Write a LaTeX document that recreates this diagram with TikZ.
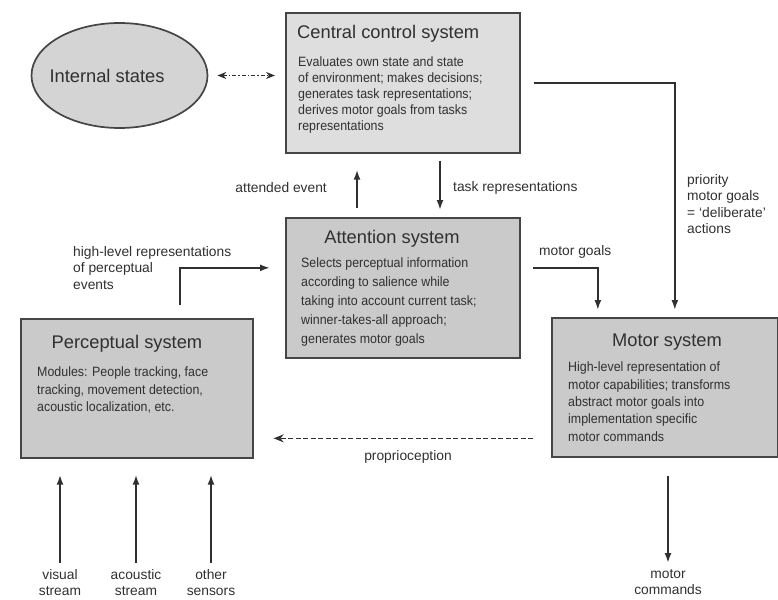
\documentclass[tikz,border=0pt]{standalone}
\usepackage{fontspec}
\setmainfont{Liberation Sans}
\newfontfamily\narrowfont[FakeStretch=0.92]{Liberation Sans}
\usetikzlibrary{arrows.meta,shapes.geometric}
\definecolor{inkgray}{HTML}{303030}
\definecolor{edgegray}{HTML}{454545}
\definecolor{lightfill}{HTML}{DEDEDE}
\definecolor{midfill}{HTML}{CACACA}
\definecolor{ovalfill}{HTML}{D4D4D4}
\begin{document}
\begin{tikzpicture}[x=1pt,y=-1pt,
  sysbox/.style={draw=edgegray,line width=1.7pt,fill=#1,anchor=north west,inner sep=0pt},
  boxtitle/.style={font=\fontsize{18.3}{21}\selectfont,text=inkgray,inner sep=0pt},
  boxtext/.style={font=\narrowfont\fontsize{13.5}{#1}\selectfont,text=inkgray,align=left,anchor=north west,inner sep=0pt},
  flowlabel/.style={font=\fontsize{13.8}{16.5}\selectfont,text=inkgray,inner sep=0pt},
  flowarrow/.style={draw=inkgray,line width=1.8pt,-{Latex[length=10pt,width=7pt]}},
  dashflow/.style={draw=inkgray,line width=1.7pt,dash pattern=on 5pt off 2.5pt,-{Stealth[length=10pt,width=8pt]}}]
\useasboundingbox (0,0) rectangle (778,599);
\node[sysbox=lightfill,minimum width=234pt,minimum height=140pt] (central) at (285,12) {};
\node[sysbox=midfill,minimum width=234pt,minimum height=140pt] (attention) at (285,217) {};
\node[sysbox=midfill,minimum width=232pt,minimum height=139pt] (perceptual) at (20,318) {};
\node[sysbox=midfill,minimum width=226pt,minimum height=139pt] (motor) at (551,317) {};
\node[ellipse,draw=edgegray,line width=1.7pt,fill=ovalfill,minimum width=176pt,minimum height=105pt,inner sep=0pt] (internal) at (119.5,75.5) {};
\node[boxtitle] (internaltitle) at (107,76) {Internal states};
\node[boxtitle,anchor=west] (centraltitle) at (297,34) {Central control system};
\node[boxtitle] (attentiontitle) at (392,239) {Attention system};
\node[boxtitle] (perceptualtitle) at (127,344) {Perceptual system};
\node[boxtitle] (motortitle) at (667,342) {Motor system};
\node[boxtext=16] (centraltext) at (298,57) {Evaluates own state and state\\of environment; makes decisions;\\generates task representations;\\derives motor goals from tasks\\representations};
\node[boxtext=19] (attentiontext) at (301,258) {Selects perceptual information\\according to salience while\\taking into account current task;\\winner-takes-all approach;\\generates motor goals};
\node[boxtext=17.5] (perceptualtext) at (37,367) {Modules: People tracking, face\\tracking, movement detection,\\acoustic localization, etc.};
\node[boxtext=17.3] (motortext) at (568,362) {High-level representation of\\motor capabilities; transforms\\abstract motor goals into\\implementation specific\\motor commands};
\node[flowlabel,anchor=east] (attendedlbl) at (327,188) {attended event};
\node[flowlabel,anchor=west] (tasklbl) at (453,188) {task representations};
\node[flowlabel,align=left,anchor=north west] (prioritylbl) at (687,174) {priority\\motor goals\\= `deliberate'\\actions};
\node[flowlabel,anchor=west] (goalslbl) at (539,252) {motor goals};
\node[flowlabel,align=left,anchor=north west] (highlbl) at (73,246) {high-level representations\\of perceptual\\events};
\node[flowlabel] (propriolbl) at (408,457) {proprioception};
\node[flowlabel,align=center,anchor=north] (visuallbl) at (60,569) {visual\\stream};
\node[flowlabel,align=center,anchor=north] (acousticlbl) at (136,569) {acoustic\\stream};
\node[flowlabel,align=center,anchor=north] (sensorslbl) at (211,569) {other\\sensors};
\node[flowlabel,align=center,anchor=north] (commandslbl) at (668,569) {motor\\commands};
\draw[draw=inkgray,line width=1.3pt,dash pattern=on 4pt off 2pt on 1.5pt off 2pt,{Stealth[length=9pt,width=7pt]}-{Stealth[length=9pt,width=7pt]},shorten <=9pt,shorten >=10pt] (internal.east) -- (internal.east -| central.west);
\draw[flowarrow,shorten <=9pt,shorten >=16pt] ([xshift=72pt]attention.north west) -- ([xshift=72pt]central.south west);
\draw[flowarrow,shorten <=7pt,shorten >=7pt] ([xshift=155pt]central.south west) -- ([xshift=155pt]attention.north west);
\draw[flowarrow,shorten <=13pt,shorten >=7pt] (central.east) -| ([xshift=10pt]motor.north);
\draw[flowarrow,shorten <=12pt,shorten >=7pt] ([yshift=20pt]attention.east) -| ([xshift=-67pt]motor.north);
\draw[flowarrow,shorten <=13pt,shorten >=15pt] ([xshift=43pt]perceptual.north) |- ([yshift=20pt]attention.west);
\draw[dashflow,shorten <=18pt,shorten >=20pt] ([yshift=-51pt]motor.west) -- ([yshift=-50pt]perceptual.east);
\foreach \src in {visuallbl,acousticlbl,sensorslbl}
  \draw[flowarrow,shorten <=6pt,shorten >=16pt] (\src.north) -- (\src.north |- perceptual.south);
\draw[flowarrow,shorten <=18pt,shorten >=6pt] (motor.south -| commandslbl.north) -- (commandslbl.north);
\end{tikzpicture}
\end{document}
